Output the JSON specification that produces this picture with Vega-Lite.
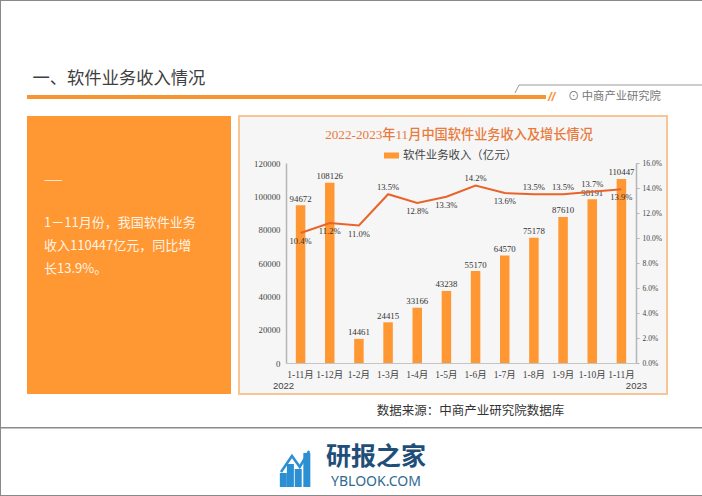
{
"$schema":"https://vega.github.io/schema/vega-lite/v6.json",
"padding":0,
"background":"#ffffff",
"config":{"view":{"stroke":null},"font":"Noto Sans CJK SC"},
"datasets":{
"one":[{"k":"a"}],
"sales":[
{"period":"2022|1-11月","rev":94672,"pct":0.104,"label":"10.4%"},
{"period":"2022|1-12月","rev":108126,"pct":0.112,"label":"11.2%"},
{"period":"2023|1-2月","rev":14461,"pct":0.11,"label":"11.0%"},
{"period":"2023|1-3月","rev":24415,"pct":0.135,"label":"13.5%"},
{"period":"2023|1-4月","rev":33166,"pct":0.128,"label":"12.8%"},
{"period":"2023|1-5月","rev":43238,"pct":0.133,"label":"13.3%"},
{"period":"2023|1-6月","rev":55170,"pct":0.142,"label":"14.2%"},
{"period":"2023|1-7月","rev":64570,"pct":0.136,"label":"13.6%"},
{"period":"2023|1-8月","rev":75178,"pct":0.135,"label":"13.5%"},
{"period":"2023|1-9月","rev":87610,"pct":0.135,"label":"13.5%"},
{"period":"2023|1-10月","rev":98191,"pct":0.137,"label":"13.7%"},
{"period":"2023|1-11月","rev":110447,"pct":0.139,"label":"13.9%"}
]},
"hconcat":[
{"width":1,"height":496,"view":{"fill":"#8a8a8a"},"data":{"name":"one"},"mark":{"type":"rect","opacity":0},"encoding":{}},
{"vconcat":[
{"width":701,"height":1,"view":{"fill":"#8a8a8a"},"data":{"name":"one"},"mark":{"type":"rect","opacity":0},"encoding":{}},
{"width":701,"height":84,"data":{"name":"one"},
 "mark":{"type":"text","text":"一、软件业务收入情况","align":"left","baseline":"middle","fontSize":17.3,"color":"#404040","dx":-319,"dy":36},"encoding":{}},
{"hconcat":[
 {"width":514,"height":10,"data":{"name":"one"},"mark":{"type":"rect","opacity":0},"encoding":{}},
 {"width":187,"height":8,"data":{"values":[{"a":0,"b":0},{"a":4,"b":7},{"a":187,"b":7}]},
  "mark":{"type":"line","color":"#9a9a9a","strokeWidth":1},
  "encoding":{"x":{"field":"a","type":"quantitative","axis":null,"scale":{"domain":[0,187],"nice":false}},
   "y":{"field":"b","type":"quantitative","axis":null,"scale":{"domain":[0,7],"nice":false}},"order":{"field":"a","type":"quantitative"}}}
 ],"spacing":0,"bounds":"flush"},
{"width":701,"height":10,"data":{"name":"one"},"mark":{"type":"rect","opacity":0},"encoding":{}},
{"hconcat":[
 {"width":26,"height":4,"data":{"name":"one"},"mark":{"type":"rect","opacity":0},"encoding":{}},
 {"width":519,"height":4,"view":{"fill":"#F79533"},"data":{"name":"one"},"mark":{"type":"rect","opacity":0},"encoding":{}},
 {"width":156,"height":4,"data":{"name":"one"},"layer":[
   {"mark":{"type":"text","text":"//","align":"left","baseline":"middle","fontSize":13,"fontWeight":"bold","fontStyle":"italic","font":"Liberation Sans","color":"#F79533","dx":-76,"dy":0},"encoding":{}},
   {"mark":{"type":"text","text":"⊙ 中商产业研究院","align":"left","baseline":"middle","fontSize":11.3,"color":"#777777","dx":-56,"dy":0},"encoding":{}}
 ]}
 ],"spacing":0,"bounds":"flush"},
{"width":701,"height":21,"data":{"name":"one"},"mark":{"type":"rect","opacity":0},"encoding":{}},
{"hconcat":[
 {"width":26,"height":278,"data":{"name":"one"},"mark":{"type":"rect","opacity":0},"encoding":{}},
 {"width":204,"height":278,"view":{"fill":"#FF9733"},
  "data":{"values":[{"line":1,"t":"1－11月份，我国软件业务"},{"line":2,"t":"收入110447亿元，同比增"},{"line":3,"t":"长13.9%。"}]},
  "encoding":{"y":{"field":"line","type":"ordinal","axis":null,"scale":{"type":"point","padding":0,"range":[107,153]}}},
  "layer":[
   {"mark":{"type":"text","align":"left","baseline":"middle","fontSize":13,"color":"#FFF3E3","dx":-85},"encoding":{"text":{"field":"t","type":"nominal"}}},
   {"transform":[{"filter":"datum.line==1"}],"mark":{"type":"text","text":"——","align":"left","baseline":"middle","fontSize":11,"color":"#FFF3E3","dx":-85,"dy":-42}}
  ]},
 {"width":8,"height":278,"data":{"name":"one"},"mark":{"type":"rect","opacity":0},"encoding":{}},
 {"width":428,"height":278,"view":{"fill":"#F6F6F6","stroke":"#F7C694","strokeWidth":2},
  "title":{"text":"2022-2023年11月中国软件业务收入及增长情况","font":"Liberation Serif, Noto Sans CJK SC","fontSize":13.2,"fontWeight":500,"color":"#E97A3B","anchor":"middle","offset":-26,"dx":6},
  "data":{"name":"sales"},
  "encoding":{"x":{"field":"period","type":"nominal","sort":null,"title":null,
    "scale":{"range":[47,397]},
    "axis":{"orient":"bottom","offset":-31,"domainColor":"#C4C4C4","domainWidth":1,"ticks":false,"labelAngle":0,"labelPadding":6,"labelFontSize":9.5,"labelColor":"#444444","labelFont":"Liberation Serif, Noto Sans CJK SC","labelExpr":"split(datum.label,'|')[1]"}}},
  "layer":[
   {"layer":[
     {"mark":{"type":"bar","size":9.5},
      "encoding":{"y":{"field":"rev","type":"quantitative","title":null,"scale":{"domain":[0,120000],"range":[247,47],"nice":false},
        "axis":{"orient":"left","offset":-47,"values":[0,20000,40000,60000,80000,100000,120000],"format":"d","grid":false,"ticks":false,"domainColor":"#B5B5B5","domainWidth":1.5,"labelPadding":6,"labelFontSize":8.8,"labelColor":"#444444","labelFont":"Liberation Serif"}},
       "color":{"datum":"软件业务收入（亿元）","type":"nominal","scale":{"range":["#FF9733"]},
        "legend":{"orient":"none","legendX":384,"legendY":148,"title":null,"symbolType":"M-1,-0.4H1V0.4H-1Z","symbolSize":225,"labelFontSize":11.4,"labelColor":"#444444","labelFont":"Liberation Serif, Noto Sans CJK SC","symbolStrokeWidth":0}}}},
     {"mark":{"type":"text","baseline":"bottom","fontSize":8.8,"color":"#333333","font":"Liberation Serif","dy":-1.5},
      "encoding":{"y":{"field":"rev","type":"quantitative"},"text":{"field":"rev","type":"quantitative","format":"d"}}},
     {"transform":[{"filter":{"field":"period","oneOf":["2022|1-11月"]}}],
      "mark":{"type":"text","text":"2022","fontSize":9.5,"color":"#444444","font":"Liberation Sans","dx":-17,"dy":23,"baseline":"middle"},
      "encoding":{"y":{"datum":0,"type":"quantitative"}}},
     {"transform":[{"filter":{"field":"period","oneOf":["2023|1-11月"]}}],
      "mark":{"type":"text","text":"2023","fontSize":9.5,"color":"#444444","font":"Liberation Sans","dx":15,"dy":23,"baseline":"middle"},
      "encoding":{"y":{"datum":0,"type":"quantitative"}}}
   ]},
   {"encoding":{"y":{"field":"pct","type":"quantitative","title":null,"scale":{"domain":[0,0.16],"range":[247,47],"nice":false},
       "axis":{"orient":"right","offset":-31,"values":[0,0.02,0.04,0.06,0.08,0.1,0.12,0.14,0.16],"format":".1%","grid":false,"tickColor":"#B5B5B5","tickSize":3,"domainColor":"#B5B5B5","domainWidth":1.5,"labelPadding":3,"labelFontSize":7.5,"labelColor":"#444444","labelFont":"Liberation Serif"}}},
    "layer":[
     {"mark":{"type":"line","color":"#E8642A","strokeWidth":2}},
     {"transform":[{"filter":{"field":"period","oneOf":["2023|1-3月","2023|1-6月","2023|1-8月","2023|1-9月","2023|1-10月"]}}],
      "mark":{"type":"text","baseline":"bottom","fontSize":8.6,"color":"#333333","font":"Liberation Serif","dy":-2.5},
      "encoding":{"text":{"field":"label","type":"nominal"}}},
     {"transform":[{"filter":{"field":"period","oneOf":["2022|1-11月","2022|1-12月","2023|1-2月","2023|1-4月","2023|1-5月","2023|1-7月","2023|1-11月"]}}],
      "mark":{"type":"text","baseline":"top","fontSize":8.6,"color":"#333333","font":"Liberation Serif","dy":4},
      "encoding":{"text":{"field":"label","type":"nominal"}}}
    ]}
  ],
  "resolve":{"scale":{"y":"independent"},"axis":{"y":"independent"}}}
 ],"spacing":0,"bounds":"flush"},
{"width":701,"height":278,"data":{"name":"one"},"mark":{"type":"rect","opacity":0},"encoding":{}},
{"width":701,"height":33,"data":{"name":"one"},
 "mark":{"type":"text","text":"数据来源：中商产业研究院数据库","baseline":"middle","fontSize":12.5,"color":"#333333","dx":119,"dy":0},"encoding":{}},
{"width":701,"height":1.5,"view":{"fill":"#8a8a8a"},"data":{"name":"one"},"mark":{"type":"rect","opacity":0},"encoding":{}},
{"hconcat":[
 {"width":275,"height":66,"data":{"name":"one"},"mark":{"type":"rect","opacity":0},"encoding":{}},
 {"width":46,"height":66,
  "layer":[
   {"data":{"values":[{"i":3,"v":14},{"i":12,"v":23},{"i":22,"v":18},{"i":33,"v":34}]},
    "mark":{"type":"bar","size":7,"color":"#2B8FD3"},
    "encoding":{"x":{"field":"i","type":"quantitative","axis":null,"scale":{"domain":[0,46],"range":[0,46],"nice":false}},
     "y":{"field":"v","type":"quantitative","axis":null,"scale":{"domain":[0,38],"range":[58,20],"nice":false}}}},
   {"data":{"values":[{"i":0,"v":15},{"i":14,"v":31},{"i":24,"v":20},{"i":36,"v":36}]},
    "mark":{"type":"line","color":"#2B8FD3","strokeWidth":2.5},
    "encoding":{"x":{"field":"i","type":"quantitative","axis":null},"y":{"field":"v","type":"quantitative","axis":null}}}
  ]},
 {"width":108,"height":66,"data":{"name":"one"},"layer":[
   {"mark":{"type":"text","text":"研报之家","fontSize":25,"fontWeight":"bold","color":"#1F4E79","baseline":"middle","dy":-5},"encoding":{}},
   {"mark":{"type":"text","text":"YBLOOK.COM","fontSize":14,"color":"#2E6A94","font":"Noto Sans","baseline":"middle","dy":20},"encoding":{}}
 ]}
 ],"spacing":0,"bounds":"flush"},
{"width":701,"height":66,"data":{"name":"one"},"mark":{"type":"rect","opacity":0},"encoding":{}},
{"width":701,"height":1.5,"view":{"fill":"#8a8a8a"},"data":{"name":"one"},"mark":{"type":"rect","opacity":0},"encoding":{}}
],"spacing":0,"bounds":"flush"}
],"spacing":0,"bounds":"flush"}
